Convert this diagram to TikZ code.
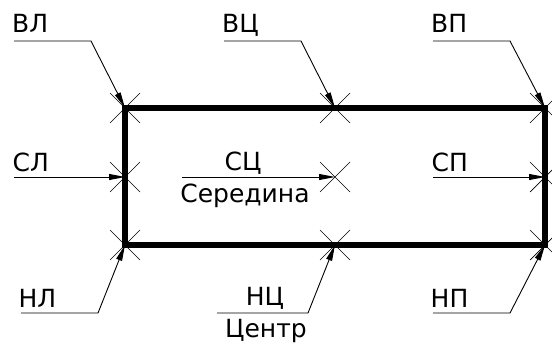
\documentclass[tikz,border=0pt]{standalone}
\usepackage{fontspec}
\setmainfont{DejaVu Sans}
\usetikzlibrary{arrows.meta}
\begin{document}
\begin{tikzpicture}[x=1pt,y=-1pt,
  frame/.style={line width=5.5pt},
  leader/.style={line width=0.9pt,-{Triangle[length=16pt,width=6pt]}},
  cross/.style={line width=0.7pt},
  lbl/.style={inner sep=0pt,font=\fontsize{25}{27}\selectfont}]
\useasboundingbox (0,0) rectangle (552,345);
\clip (0,0) rectangle (552,345);

% reference points of the outline
\coordinate (VL) at (125,108);
\coordinate (VC) at (335,108);
\coordinate (VP) at (545,108);
\coordinate (SL) at (125,177);
\coordinate (SC) at (335,177);
\coordinate (SP) at (545,177);
\coordinate (NL) at (125,245);
\coordinate (NC) at (335,245);
\coordinate (NP) at (545,245);

% thick outline
\draw[frame] (VL) rectangle (NP);

% snap crosses
\foreach \p in {VL,VC,VP,SL,SC,SP,NL,NC,NP}{
  \draw[cross] ([shift={(-15,-15)}]\p) -- ([shift={(15,15)}]\p);
  \draw[cross] ([shift={(-15,15)}]\p) -- ([shift={(15,-15)}]\p);
}

% top row leaders
\coordinate (vlA) at (14,41);  \coordinate (vlB) at (91,41);
\coordinate (vcA) at (224,41); \coordinate (vcB) at (301,41);
\coordinate (vpA) at (433,41); \coordinate (vpB) at (510,41);
\draw[leader] (vlA) -- (vlB) -- (VL);
\draw[leader] (vcA) -- (vcB) -- (VC);
\draw[leader] (vpA) -- (vpB) -- (VP);
\node[lbl,anchor=base west] (tVL) at (12,33) {ВЛ};
\node[lbl,anchor=base west] (tVC) at (222,33) {ВЦ};
\node[lbl,anchor=base west] (tVP) at (431,33) {ВП};

% middle row leaders
\coordinate (slA) at (14,177);
\coordinate (scA) at (182,177);
\coordinate (spA) at (433,177);
\draw[leader] (slA) -- (SL);
\draw[leader] (scA) -- (SC);
\draw[leader] (spA) -- (SP);
\node[lbl,anchor=base west] (tSL) at (12.5,171) {СЛ};
\node[lbl,anchor=base] (tSC) at (243,170) {СЦ};
\node[lbl,anchor=base] (tSCb) at (245,202) {Середина};
\node[lbl,anchor=base west] (tSP) at (431.5,171) {СП};

% bottom row leaders
\coordinate (nlA) at (21,313);  \coordinate (nlB) at (98,313);
\coordinate (ncA) at (217,313); \coordinate (ncB) at (308,313);
\coordinate (npA) at (433,313); \coordinate (npB) at (510,313);
\draw[leader] (nlA) -- (nlB) -- (NL);
\draw[leader] (ncA) -- (ncB) -- (NC);
\draw[leader] (npA) -- (npB) -- (NP);
\node[lbl,anchor=base west] (tNL) at (18.5,307) {НЛ};
\node[lbl,anchor=base] (tNC) at (265,305) {НЦ};
\node[lbl,anchor=base] (tNCb) at (266,337) {Центр};
\node[lbl,anchor=base west] (tNP) at (430.5,307) {НП};
\end{tikzpicture}
\end{document}
